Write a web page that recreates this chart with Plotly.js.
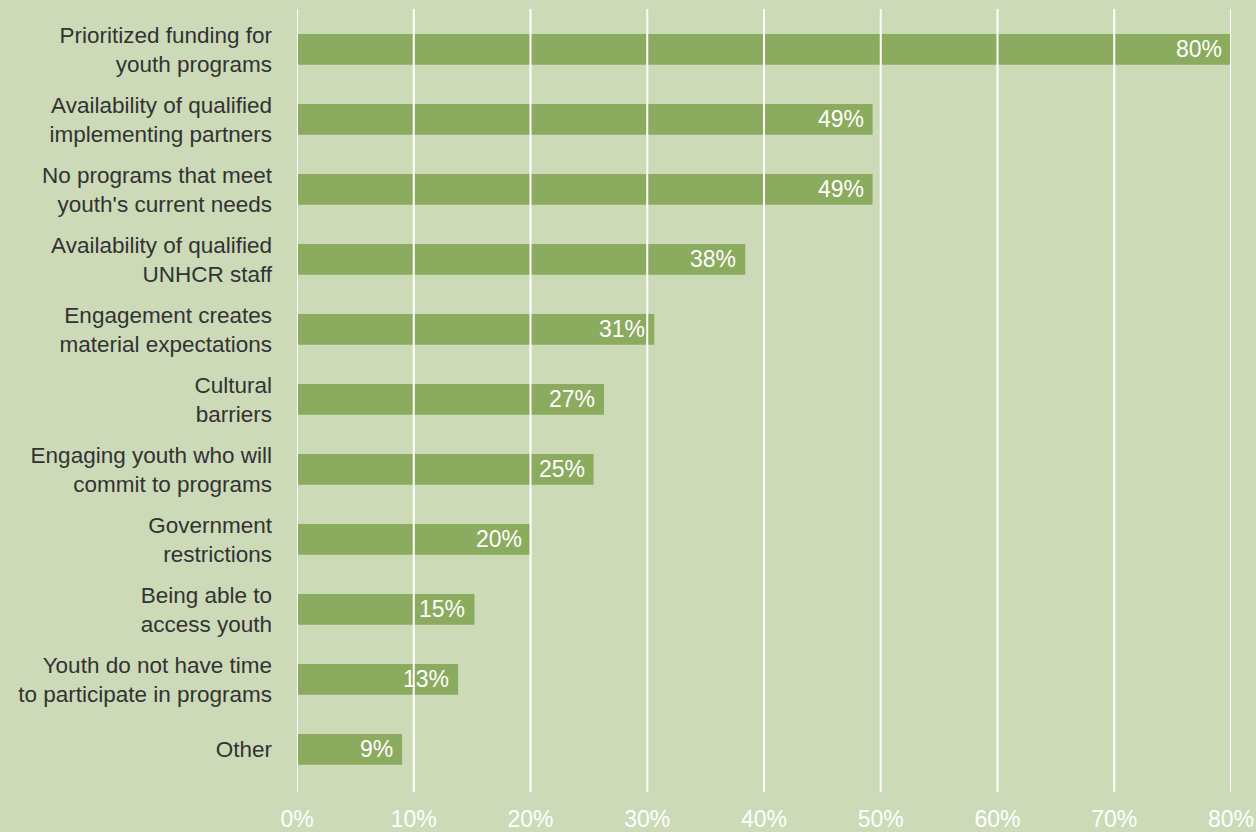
<!DOCTYPE html>
<html>
<head>
<meta charset="utf-8">
<script src="https://cdn.plot.ly/plotly-3.0.1.min.js"></script>
<style>html,body{margin:0;padding:0;background:#ccdab8;}</style>
</head>
<body>
<div id="chart" style="width:1256px;height:832px;"></div>
<script>
const categories = [
  "Prioritized funding for<br>youth programs",
  "Availability of qualified<br>implementing partners",
  "No programs that meet<br>youth's current needs",
  "Availability of qualified<br>UNHCR staff",
  "Engagement creates<br>material expectations",
  "Cultural<br>barriers",
  "Engaging youth who will<br>commit to programs",
  "Government<br>restrictions",
  "Being able to<br>access youth",
  "Youth do not have time<br>to participate in programs",
  "Other"
];
const values = [80, 49.3, 49.3, 38.4, 30.6, 26.3, 25.4, 20.0, 15.2, 13.8, 9.0];
const valueLabels = ["80%", "49%", "49%", "38%", "31%", "27%", "25%", "20%", "15%", "13%", "9%"];
const tickVals = [0, 10, 20, 30, 40, 50, 60, 70, 80];
const tickText = ["0%", "10%", "20%", "30%", "40%", "50%", "60%", "70%", "80%"];

const font = "Liberation Sans, Arial, Helvetica, sans-serif";

const trace = {
  type: "bar",
  orientation: "h",
  x: values,
  y: categories.map((c, i) => i),
  marker: {color: "#8bab5f"},
  width: 0.44,
  hoverinfo: "none"
};

const annotations = values.map((v, i) => ({
  x: v, y: i, xref: "x", yref: "y",
  text: valueLabels[i], showarrow: false,
  xanchor: "right", yanchor: "middle", xshift: -7,
  font: {family: font, size: 23, color: "#ffffff"}
}));

const shapes = tickVals.map(t => ({
  type: "line", layer: "above", xref: "x", yref: "paper",
  x0: t, x1: t, y0: 0, y1: 1,
  line: {color: "#ffffff", width: 2}
}));

const layout = {
  width: 1256, height: 832,
  paper_bgcolor: "#ccdab8", plot_bgcolor: "#ccdab8",
  margin: {l: 297, r: 25, t: 9, b: 40, pad: 0},
  showlegend: false,
  xaxis: {
    range: [0, 80], tickvals: tickVals, ticktext: tickText,
    showgrid: false, zeroline: false, showline: false, ticks: "",
    ticklabelstandoff: 11,
    tickfont: {family: font, size: 23, color: "#ffffff"},
    fixedrange: true
  },
  yaxis: {
    range: [10.61, -0.576], tickvals: categories.map((c, i) => i), ticktext: categories,
    showgrid: false, zeroline: false, showline: false, ticks: "",
    ticklabelstandoff: 24,
    tickfont: {family: font, size: 22.5, color: "#333333"},
    fixedrange: true
  },
  shapes: shapes,
  annotations: annotations
};

Plotly.newPlot("chart", [trace], layout, {displayModeBar: false, staticPlot: true});
</script>
</body>
</html>
